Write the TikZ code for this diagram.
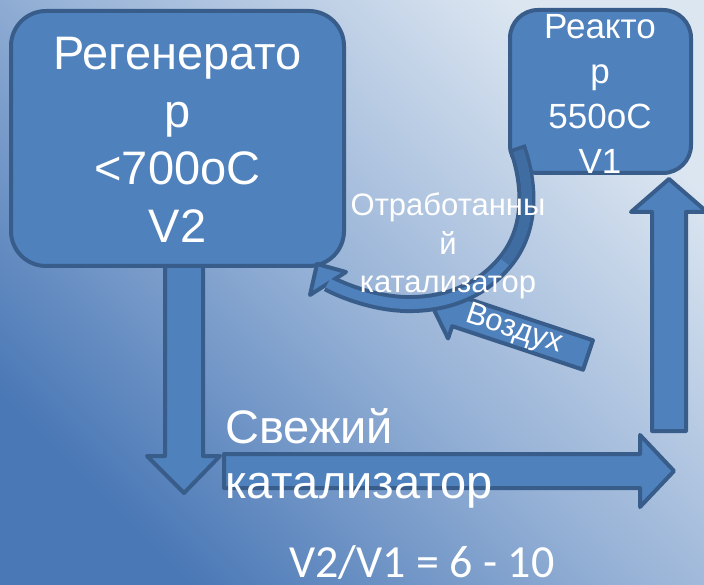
\documentclass[tikz,border=0pt]{standalone}
\usepackage{fontspec}
\setmainfont{Liberation Sans}
\newfontfamily\calfont{Carlito}
\definecolor{boxfill}{HTML}{4F81BD}
\definecolor{boxline}{HTML}{385D8A}
\definecolor{arcdark}{HTML}{3F6CA1}
\definecolor{bglight}{HTML}{DCE6F1}
\definecolor{bgmid}{HTML}{98B3D7}
\definecolor{bgdark}{HTML}{4A78B6}
\begin{document}
\begin{tikzpicture}[x=1pt,y=-1pt,
  shapebox/.style={fill=boxfill, draw=boxline, line width=4pt, line join=round},
  txt/.style={text=white, inner sep=0pt, align=center},
]
\useasboundingbox (0,0) rectangle (704,585);
\shade[top color=bglight, bottom color=bgdark, middle color=bgmid, shading angle=-45] (0,0) rectangle (704,585);

% block arrows
\draw[shapebox] (165,255) -- (165,456) -- (147,456) -- (184,493) -- (220,456) -- (203,456) -- (203,255) -- cycle;
\draw[shapebox] (652,431) -- (652,212) -- (631,212) -- (669,179) -- (707,212) -- (686,212) -- (686,431) -- cycle;
\draw[shapebox] (224,454) -- (640,454) -- (640,435) -- (674,471) -- (640,507) -- (640,488) -- (224,488) -- cycle;

% boxes
\node[shapebox, rounded corners=35pt, minimum width=333pt, minimum height=255pt, inner sep=0pt] (reg) at (177.5,138.5) {};
\node[shapebox, rounded corners=28pt, minimum width=181pt, minimum height=163pt, inner sep=0pt] (rea) at (600.5,91.5) {};

% air arrow
\begin{scope}[shift={(588,355)}, rotate=161.6]
  \draw[shapebox] (0,-15.5) -- (138,-15.5) -- (138,-28.5) -- (166,0) -- (138,28.5) -- (138,15.5) -- (0,15.5) -- cycle;
\end{scope}

% curved arrow
\coordinate (cs) at (517,147);
\coordinate (ce) at (328,283);
\draw[line width=18pt, draw=boxline] (cs) .. controls (532,190) and (530,232) .. (505,262) .. controls (480,292) and (445,305) .. (405,304) .. controls (375,303) and (345,292) .. (ce);
\draw[shapebox] (317,264) -- (346,272) -- (310,295) -- cycle;
\draw[line width=10pt, draw=boxfill, shorten <=4pt] (cs) .. controls (532,190) and (530,232) .. (505,262) .. controls (480,292) and (445,305) .. (405,304) .. controls (375,303) and (345,292) .. (ce);
\draw[line width=10pt, draw=arcdark, shorten <=4pt] (cs) .. controls (532,190) and (530,232) .. (505,262);

% texts
\node[txt, font=\fontsize{47}{57.5}\selectfont] (regt) at (177.5,139.75) {Регенерато\\р\\<700оС\\V2};
\node[txt, font=\fontsize{35}{45}\selectfont] (reat) at (600,94) {Реакто\\р\\550оС\\V1};
\node[txt, font=\fontsize{31}{38.5}\selectfont] (spent) at (448,246) {Отработанны\\й\\катализатор};
\node[txt, font=\fontsize{31}{33}\selectfont, rotate=-18.4] (air) at (514,330) {Воздух};
\node[txt, align=left, anchor=north west, font=\fontsize{47}{55}\selectfont] (fresh) at (225,408) {Свежий\\катализатор};
\node[text=white, inner sep=0pt, anchor=base, font=\calfont\fontsize{46}{50}\selectfont] (ratio) at (422,577) {V2/V1 = 6 - 10};
\end{tikzpicture}
\end{document}
